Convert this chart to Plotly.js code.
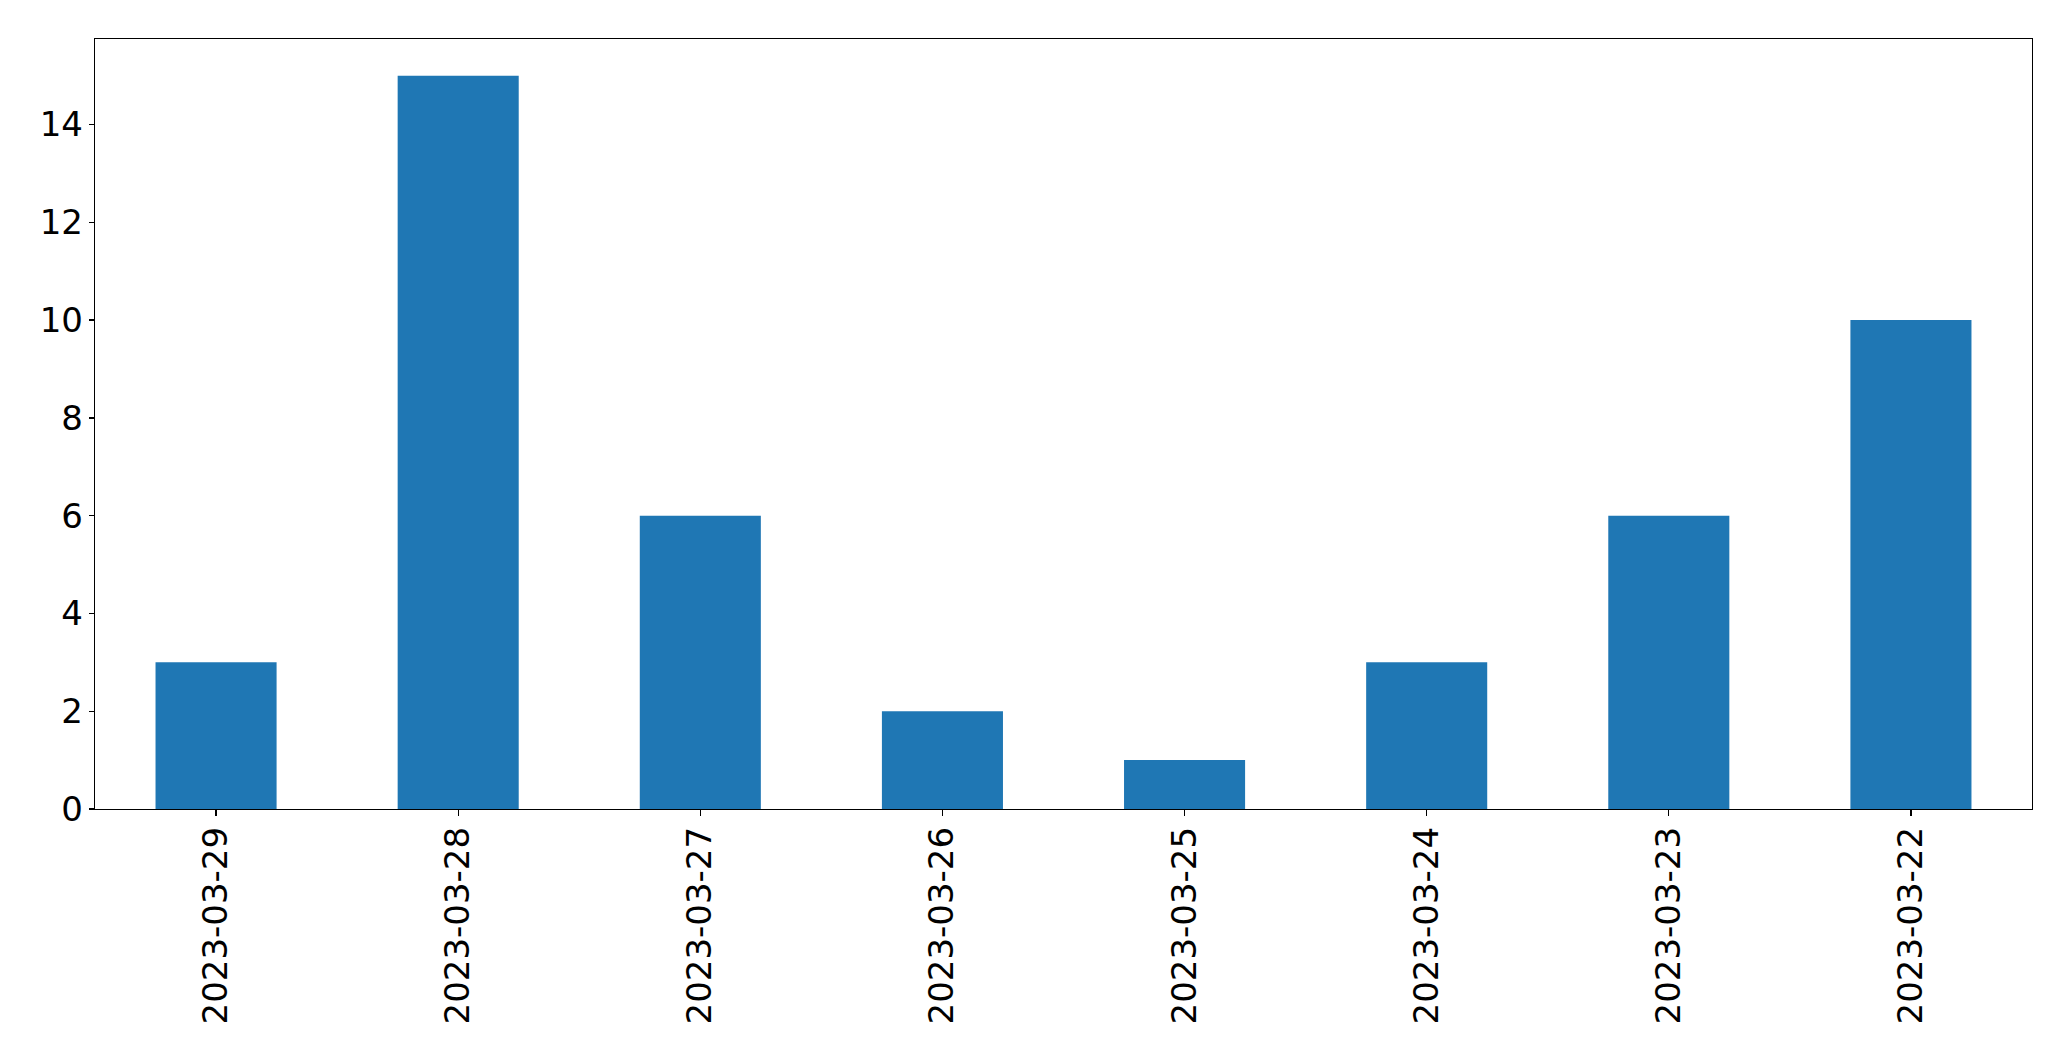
<!DOCTYPE html>
<html>
<head>
<meta charset="utf-8">
<script src="https://cdn.plot.ly/plotly-3.0.1.min.js"></script>
<style>
html,body{margin:0;padding:0;background:#fff;}
#chart{width:2071px;height:1061px;}
</style>
</head>
<body>
<div id="chart"></div>
<script>
const categories = ["2023-03-29","2023-03-28","2023-03-27","2023-03-26","2023-03-25","2023-03-24","2023-03-23","2023-03-22"];
const counts = [3, 15, 6, 2, 1, 3, 6, 10];
const yTicks = [0, 2, 4, 6, 8, 10, 12, 14];

const font = {family: "DejaVu Sans", size: 34, color: "#000"};

Plotly.newPlot("chart", [{
  type: "bar",
  x: categories,
  y: counts,
  width: 0.5,
  marker: {color: "#1f77b4", line: {width: 0}},
  hoverinfo: "x+y"
}], {
  width: 2071,
  height: 1061,
  margin: {l: 95, r: 39, t: 39, b: 252, pad: 0},
  paper_bgcolor: "#fff",
  plot_bgcolor: "#fff",
  showlegend: false,
  font: font,
  xaxis: {
    type: "category",
    range: [-0.5, 7.5],
    tickangle: -90,
    ticks: "outside",
    ticklen: 6,
    tickwidth: 1.3,
    tickcolor: "#000",
    showline: true,
    linecolor: "#000",
    linewidth: 1.3,
    mirror: true,
    showgrid: false,
    zeroline: false,
    tickfont: font,
    ticklabelstandoff: -3
  },
  yaxis: {
    range: [0, 15.75],
    tickvals: yTicks,
    ticktext: yTicks.map(String),
    ticks: "outside",
    ticklen: 5,
    tickwidth: 1.3,
    tickcolor: "#000",
    showline: true,
    linecolor: "#000",
    linewidth: 1.3,
    mirror: true,
    showgrid: false,
    zeroline: false,
    tickfont: font,
    ticklabelstandoff: -1
  }
}, {staticPlot: true});
</script>
</body>
</html>
